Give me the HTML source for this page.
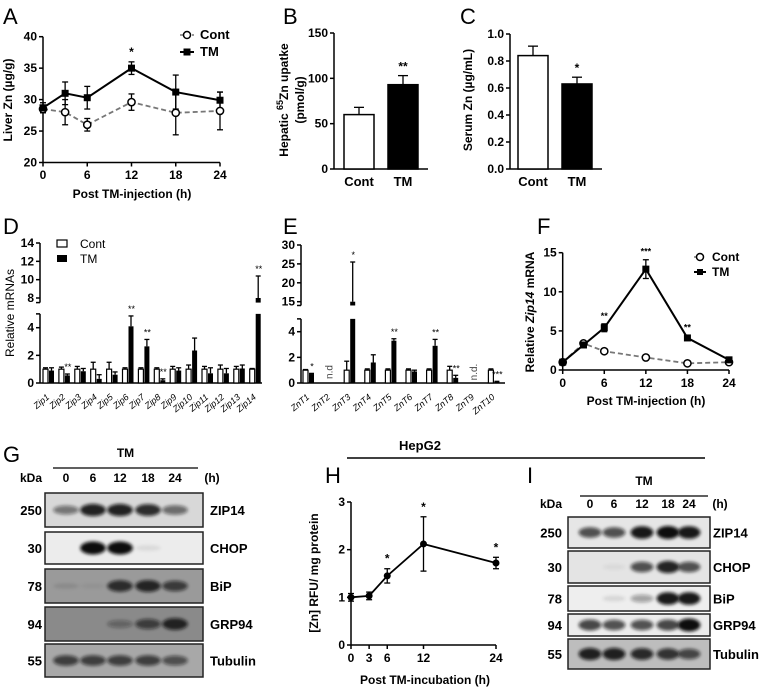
<!DOCTYPE html>
<html><head><meta charset="utf-8">
<style>
body{margin:0;background:#fff;}
svg{display:block;font-family:"Liberation Sans",Arial,sans-serif;}
.t{font-weight:bold;font-size:12px;}
.pl{font-size:22px;}
</style></head>
<body>
<svg id="fig" width="762" height="693" viewBox="0 0 762 693" xmlns="http://www.w3.org/2000/svg"></svg>
<script>
// ---- Panel A data
const aHours=[0,3,6,12,18,24];
const aTM=[28.7,31,30.3,35,31.2,29.9];
const aTMerr=[0.8,1.8,1.8,1,2.7,1.3];
const aCont=[28.5,28,26,29.6,27.9,28.2];
const aContErr=[0.5,2,1,1.3,3.5,3];
const aYTicks=[20,25,30,35,40];
const aXTicks=[0,6,12,18,24];
// ---- Panel B
const bCats=["Cont","TM"];
const bVals=[60,93];
const bErr=[8,10];
const bYTicks=[0,50,100,150];
// ---- Panel C
const cCats=["Cont","TM"];
const cVals=[0.84,0.63];
const cErr=[0.07,0.05];
const cYTicks=[0.0,0.2,0.4,0.6,0.8,1.0];
// ---- Panel D
const dCats=["Zip1","Zip2","Zip3","Zip4","Zip5","Zip6","Zip7","Zip8","Zip9","Zip10","Zip11","Zip12","Zip13","Zip14"];
const dCont=[1,1,1,1,1,1,1,1,1,1,1,1,1,1];
const dContErr=[0.1,0.15,0.2,0.5,0.5,0.1,0.1,0.1,0.2,0.3,0.2,0.3,0.2,0.05];
const dTM=[0.9,0.55,0.85,0.3,0.6,4.1,2.65,0.2,0.9,2.35,0.7,0.7,1.05,8];
const dTMerr=[0.2,0.1,0.2,0.3,0.2,0.75,0.5,0.1,0.2,0.9,0.4,0.35,0.25,2.4];
const dStars=["","**","","","","**","**","**","","","","","","**"];
const dLowTicks=[0,2,4];
const dHighTicks=[8,10,12,14];
// ---- Panel E
const eCats=["ZnT1","ZnT2","ZnT3","ZnT4","ZnT5","ZnT6","ZnT7","ZnT8","ZnT9","ZnT10"];
const eCont=[1,null,1,1,1,1,1,1,null,1];
const eContErr=[0.05,0,0.7,0.1,0.1,0.1,0.1,0.3,0,0.1];
const eTM=[0.7,null,15,1.6,3.3,0.9,2.9,0.4,null,0.1];
const eTMerr=[0.05,0,10.5,0.6,0.15,0.1,0.5,0.2,0,0.03];
const eStars=["*","n.d","*","","**","","**","**","n.d.","***"];
const eLowTicks=[0,2,4];
const eHighTicks=[15,20,25,30];
// ---- Panel F
const fHours=[0,3,6,12,18,24];
const fTM=[1,3.2,5.4,12.9,4.1,1.3];
const fTMerr=[0.2,0.3,0.5,1.2,0.3,0.2];
const fCont=[1,3.4,2.4,1.6,0.85,1];
const fStars=["","","**","***","**",""];
const fYTicks=[0,5,10,15];
const fXTicks=[0,6,12,18,24];
// ---- Panel H
const hHours=[0,3,6,12,24];
const hVals=[1,1.03,1.45,2.12,1.72];
const hErr=[0.08,0.08,0.15,0.57,0.12];
const hStars=["","","*","*","*"];
const hYTicks=[0,1,2,3];
// ---- Blots
const gLanes=["0","6","12","18","24"];
const blotProteins=["ZIP14","CHOP","BiP","GRP94","Tubulin"];
const blotKDa=["250","30","78","94","55"];
const gIntensity=[[0.5,0.9,0.9,0.85,0.55],[0,1,1,0.08,0],[0.1,0.05,0.8,0.85,0.7],[0,0,0.35,0.65,0.85],[0.7,0.7,0.7,0.7,0.6]];
const iIntensity=[[0.7,0.7,0.95,1,0.95],[0,0.05,0.7,0.9,0.7],[0.02,0.1,0.35,0.95,0.95],[0.75,0.7,0.7,0.75,1],[0.9,0.9,0.85,0.8,0.7]];

const S=document.getElementById('fig');
const NS="http://www.w3.org/2000/svg";
function el(tag,attrs,txt,parent){const e=document.createElementNS(NS,tag);for(const k in attrs)e.setAttribute(k,attrs[k]);if(txt!==undefined&&txt!==null)e.textContent=txt;(parent||S).appendChild(e);return e;}
function grp(name){const g=el('g',{});return g;}
function lin(d0,d1,r0,r1){return v=>r0+(v-d0)*(r1-r0)/(d1-d0);}
function line(g,x1,y1,x2,y2,w,c,dash){const a={x1,y1,x2,y2,stroke:c||'#000','stroke-width':w||1.5};if(dash)a['stroke-dasharray']=dash;return el('line',a,null,g);}
function txt(g,x,y,s,opt){opt=opt||{};const a={x,y,'text-anchor':opt.anchor||'middle','font-size':opt.size||12,'font-weight':opt.weight||'bold',fill:opt.fill||'#000'};if(opt.rot!==undefined)a.transform=`rotate(${opt.rot} ${x} ${y})`;if(opt.style)a['font-style']=opt.style;return el('text',a,s,g);}
function errbar(g,x,y1,y2,w){line(g,x,y1,x,y2,1.3);line(g,x-w,y2,x+w,y2,1.3);}
function letter(s,x,y){const t=el('text',{x,y,'font-size':22,fill:'#000'},s);}
function yAxis(g,x,sy,ticks,fmt,top,bot){line(g,x,sy(top),x,sy(bot),1.5);ticks.forEach(v=>{line(g,x-4,sy(v),x,sy(v),1.5);txt(g,x-6,sy(v)+4,fmt?fmt(v):String(v),{anchor:'end'});});}

letter('A',3,24);letter('B',283,24);letter('C',460,24);letter('D',3,234);letter('E',283,234);letter('F',537,234);letter('G',3,462);letter('H',325,483);letter('I',527,483);

// ===== Panel A
(function(){const g=grp('panel-a-chart');
const sx=lin(0,24,43,220), sy=lin(20,40,162.5,36.7);
yAxis(g,43,sy,aYTicks,null,40,20);
line(g,43,162.5,220,162.5,1.5);
aXTicks.forEach(v=>{line(g,sx(v),162.5,sx(v),166.5,1.5);txt(g,sx(v),179,String(v));});
txt(g,132,198,'Post TM-injection (h)');
txt(g,12,100,'Liver Zn (µg/g)',{rot:-90});
let p='';aHours.forEach((h,i)=>p+=(i?'L':'M')+sx(h)+','+sy(aCont[i]));
el('path',{d:p,fill:'none',stroke:'#777','stroke-width':1.8,'stroke-dasharray':'5,3'},null,g);
aHours.forEach((h,i)=>{errbar(g,sx(h),sy(aCont[i]),sy(aCont[i]+aContErr[i]),3);errbar(g,sx(h),sy(aCont[i]),sy(aCont[i]-aContErr[i]),3);});
p='';aHours.forEach((h,i)=>p+=(i?'L':'M')+sx(h)+','+sy(aTM[i]));
el('path',{d:p,fill:'none',stroke:'#000','stroke-width':2},null,g);
aHours.forEach((h,i)=>{errbar(g,sx(h),sy(aTM[i]),sy(aTM[i]+aTMerr[i]),3);errbar(g,sx(h),sy(aTM[i]),sy(aTM[i]-aTMerr[i]),3);});
aHours.forEach((h,i)=>{const c=el('circle',{cx:sx(h),cy:sy(aCont[i]),r:3.6,fill:'#fff',stroke:'#000','stroke-width':1.5},null,g);});
aHours.forEach((h,i)=>{const r=el('rect',{x:sx(h)-3.5,y:sy(aTM[i])-3.5,width:7,height:7,fill:'#000'},null,g);});
txt(g,sx(12),sy(35)-12,'*');
const lg=grp('legend-a');line(lg,180,35,194,35,1.5,'#777','4,2');el('circle',{cx:187,cy:35,r:3.5,fill:'#fff',stroke:'#000','stroke-width':1.5},null,lg);txt(lg,200,39,'Cont',{anchor:'start',size:13});
line(lg,180,52,194,52,2);el('rect',{x:183.5,y:48.5,width:7,height:7},null,lg);txt(lg,200,56,'TM',{anchor:'start',size:13});
})();

// ===== Panel B
(function(){const g=grp('panel-b-chart');
const sy=lin(0,150,169,33);
yAxis(g,334,sy,bYTicks,null,150,0);line(g,334,169,428,169,1.5);
const bx=[344,388];
bVals.forEach((v,i)=>{const r=el('rect',{x:bx[i],y:sy(v),width:30,height:169-sy(v),fill:i?'#000':'#fff',stroke:'#000','stroke-width':1.5},null,g);
errbar(g,bx[i]+15,sy(v),sy(v+bErr[i]),5);txt(g,bx[i]+15,186,bCats[i],{size:13});});
txt(g,bx[1]+15,sy(bVals[1]+bErr[1])-5,'**');
const t=txt(g,288,100,'',{rot:-90});t.innerHTML='Hepatic <tspan font-size="9" dy="-5">65</tspan><tspan dy="5">Zn upatke</tspan>';
txt(g,304,100,'(pmol/g)',{rot:-90});
})();

// ===== Panel C
(function(){const g=grp('panel-c-chart');
const sy=lin(0,1,169,34);
yAxis(g,510,sy,cYTicks,v=>v.toFixed(1),1,0);line(g,510,169,602,169,1.5);
const bx=[518,562];
cVals.forEach((v,i)=>{const r=el('rect',{x:bx[i],y:sy(v),width:30,height:169-sy(v),fill:i?'#000':'#fff',stroke:'#000','stroke-width':1.5},null,g);
errbar(g,bx[i]+15,sy(v),sy(v+cErr[i]),5);txt(g,bx[i]+15,186,cCats[i],{size:13});});
txt(g,bx[1]+15,sy(cVals[1]+cErr[1])-5,'*');
txt(g,472,100,'Serum Zn (µg/mL)',{rot:-90});
})();

// ===== broken axis bar chart helper
function broken(name,ax,axEnd,x0,step,cats,cont,contErr,tm,tmErr,stars,lowMap,highMap,lowTop,highBot,lowTicks,highTicks){
const g=grp(name);
const yl=lin(0,lowMap[0],383,lowMap[1]), yh=lin(highMap[0],highMap[2],highMap[1],highMap[3]);
line(g,ax,383,ax,yl(lowTop),1.5);line(g,ax-4,yl(lowTop),ax,yl(lowTop),1.5);
line(g,ax,yh(highBot),ax,yh(highTicks[highTicks.length-1]),1.5);line(g,ax-4,yh(highBot),ax,yh(highBot),1.5);
lowTicks.forEach(v=>{line(g,ax-4,yl(v),ax,yl(v),1.5);txt(g,ax-6,yl(v)+4,String(v));});
highTicks.forEach(v=>{line(g,ax-4,yh(v),ax,yh(v),1.5);txt(g,ax-6,yh(v)+4,String(v),{anchor:'end'});});
lowTicks.forEach(()=>{});
g.querySelectorAll('text').forEach(t=>t.setAttribute('text-anchor','end'));
line(g,ax,383,axEnd,383,1.5);
const Y=v=>v<=lowTop?yl(v):yh(Math.max(v,highBot));
cats.forEach((c,i)=>{const cx=x0+i*step;
 if(cont[i]!==null){const r=el('rect',{x:cx,y:yl(cont[i]),width:5,height:383-yl(cont[i]),fill:'#fff',stroke:'#000','stroke-width':1.2},null,g);errbar(g,cx+2.5,yl(cont[i]),yl(cont[i]+contErr[i]),2.5);}
 if(tm[i]!==null){const v=tm[i];
  if(v<=lowTop){const r=el('rect',{x:cx+6,y:yl(v),width:5,height:383-yl(v),fill:'#000'},null,g);errbar(g,cx+8.5,yl(v),Y(v+tmErr[i]),2.5);}
  else{const r=el('rect',{x:cx+6,y:yl(lowTop),width:5,height:383-yl(lowTop),fill:'#000'},null,g);
   el('rect',{x:cx+6,y:yh(v),width:5,height:Math.max(0,yh(highBot)-yh(v)),fill:'#000'},null,g);errbar(g,cx+8.5,yh(v),yh(v+tmErr[i]),2.5);}
 }
 const s=stars[i];
 if(s.startsWith('n.d')){txt(g,cx+9,372,s,{rot:-90,weight:'normal',size:10,fill:'#444'});}
 else if(s){const top=tm[i]!==null?Y(tm[i]+tmErr[i]):383;txt(g,cx+9,top-4,s,{size:9,weight:'normal'});}
 txt(g,cx+7,398,c,{rot:-40,anchor:'end',size:9,weight:'normal',style:'italic'});
});
return g;}
const gd=broken('panel-d-chart',40,262,43,15.9,dCats,dCont,dContErr,dTM,dTMerr,dStars,[4,327.7],[8,298,14,243],5,7.5,dLowTicks,dHighTicks);
txt(gd,14,313,'Relative mRNAs',{rot:-90,weight:'normal',size:12});
(function(){const lg=grp('legend-d');el('rect',{x:57,y:240,width:10,height:7,fill:'#fff',stroke:'#000','stroke-width':1.2},null,lg);txt(lg,80,248,'Cont',{anchor:'start',size:12,weight:'normal'});el('rect',{x:57,y:255,width:10,height:7,fill:'#000'},null,lg);txt(lg,80,263,'TM',{anchor:'start',size:12,weight:'normal'});})();
broken('panel-e-chart',301,505,303,20.6,eCats,eCont,eContErr,eTM,eTMerr,eStars,[4,331.7],[15,301.7,30,245],5,14,eLowTicks,eHighTicks);

// ===== Panel F
(function(){const g=grp('panel-f-chart');
const sx=lin(0,24,562.7,729), sy=lin(0,15,370,252.7);
yAxis(g,562.7,sy,fYTicks,null,15,0);line(g,562.7,370,729,370,1.5);
fXTicks.forEach(v=>{line(g,sx(v),370,sx(v),374,1.5);txt(g,sx(v),387,String(v));});
txt(g,646,405,'Post TM-injection (h)');
const yl=txt(g,534,312,'',{rot:-90});yl.innerHTML='Relative <tspan font-style="italic">Zip14</tspan> mRNA';
let p='';fHours.forEach((h,i)=>p+=(i?'L':'M')+sx(h)+','+sy(fCont[i]));
el('path',{d:p,fill:'none',stroke:'#777','stroke-width':1.8,'stroke-dasharray':'5,3'},null,g);
p='';fHours.forEach((h,i)=>p+=(i?'L':'M')+sx(h)+','+sy(fTM[i]));
el('path',{d:p,fill:'none',stroke:'#000','stroke-width':2},null,g);
fHours.forEach((h,i)=>{errbar(g,sx(h),sy(fTM[i]),sy(fTM[i]+fTMerr[i]),3);errbar(g,sx(h),sy(fTM[i]),sy(fTM[i]-fTMerr[i]),3);});
fHours.forEach((h,i)=>{const c=el('circle',{cx:sx(h),cy:sy(fCont[i]),r:3.6,fill:'#fff',stroke:'#000','stroke-width':1.5},null,g);});
fHours.forEach((h,i)=>{const r=el('rect',{x:sx(h)-3.5,y:sy(fTM[i])-3.5,width:7,height:7},null,g);if(fStars[i])txt(g,sx(h),sy(fTM[i]+fTMerr[i])-5,fStars[i],{size:9});});
const lg=grp('legend-f');line(lg,694,257,706,257,1.5,'#777','4,2');el('circle',{cx:700,cy:257,r:3.5,fill:'#fff',stroke:'#000','stroke-width':1.5},null,lg);txt(lg,712,261,'Cont',{anchor:'start'});
line(lg,694,272,706,272,2);el('rect',{x:697,y:269,width:6,height:6},null,lg);txt(lg,712,276,'TM',{anchor:'start'});
})();

// ===== HepG2
(function(){const g=grp('hepg2-header');txt(g,420,450,'HepG2',{size:13});line(g,347,458,705,458,1.5);})();

// ===== Panel H
(function(){const g=grp('panel-h-chart');
const sx=lin(0,24,351,496), sy=lin(0,3,645,502);
yAxis(g,351,sy,hYTicks,null,3,0);line(g,351,645,496,645,1.5);
hHours.forEach(v=>{line(g,sx(v),645,sx(v),649,1.5);txt(g,sx(v),662,String(v));});
txt(g,425,684,'Post TM-incubation (h)');
txt(g,318,573,'[Zn] RFU/ mg protein',{rot:-90});
let p='';hHours.forEach((h,i)=>p+=(i?'L':'M')+sx(h)+','+sy(hVals[i]));
el('path',{d:p,fill:'none',stroke:'#000','stroke-width':1.8},null,g);
hHours.forEach((h,i)=>{errbar(g,sx(h),sy(hVals[i]),sy(hVals[i]+hErr[i]),3);errbar(g,sx(h),sy(hVals[i]),sy(hVals[i]-hErr[i]),3);
const c=el('circle',{cx:sx(h),cy:sy(hVals[i]),r:3.5},null,g);
if(hStars[i])txt(g,sx(h),sy(hVals[i]+hErr[i])-6,hStars[i]);});
})();

// ===== Blots
function blot(name,x0,x1,laneX,laneY,tmY,lineY,lineX0,lineX1,hX,kdaX,boxes,labX,inten,bg){
const g=grp(name);
txt(g,(lineX0+lineX1)/2,tmY,'TM');line(g,lineX0,lineY,lineX1,lineY,1.2);
txt(g,kdaX,laneY,'kDa',{anchor:'end'});
gLanes.forEach((l,i)=>txt(g,laneX[i],laneY,l,{size:12}));txt(g,hX,laneY,'(h)');
const defs=el('defs',{},null,g);const f=el('filter',{id:name+'b',x:'-20%',y:'-50%',width:'140%',height:'200%'},null,defs);el('feGaussianBlur',{stdDeviation:1.6},null,f);
boxes.forEach((b,r)=>{const bx=el('rect',{x:x0,y:b[0],width:x1-x0,height:b[1]-b[0],fill:bg[r],stroke:'#222','stroke-width':1.5},null,g);
const cy=(b[0]+b[1])/2;
inten[r].forEach((v,i)=>{if(v>0.02){const lw=(laneX[1]-laneX[0])*0.95;el('ellipse',{cx:laneX[i],cy,rx:lw/2,ry:2.5+v*4,fill:'#111','fill-opacity':Math.min(1,v),filter:`url(#${name}b)`},null,g);}});
txt(g,kdaX,cy+5,blotKDa[r],{anchor:'end',size:13});txt(g,labX,cy+5,blotProteins[r],{anchor:'start',size:13});});
}
blot('blot-g',45,203,[66,93,120,148,175],482,457,468,53,198,212,42,[[493,527],[532,564],[569,603],[607,641],[644,677]],210,gIntensity,['#d8d8d8','#ececec','#9a9a9a','#8a8a8a','#a8a8a8']);
blot('blot-i',568,710,[590,614,642,668,689],508,485,496,580,708,720,562,[[517,548],[551,583],[586,611],[614,636],[639,669]],713,iIntensity,['#e6e6e6','#e4e4e4','#eeeeee','#ececec','#bdbdbd']);
</script>
</body></html>
